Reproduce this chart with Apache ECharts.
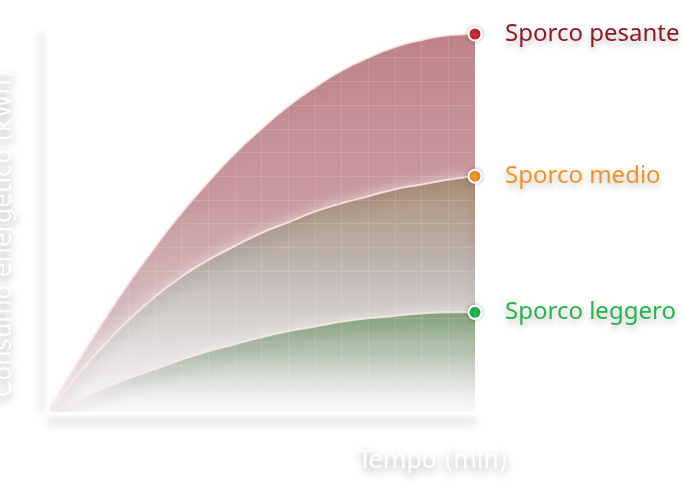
<!DOCTYPE html>
<html>
<head>
<meta charset="utf-8">
<script src="https://cdn.jsdelivr.net/npm/echarts@6/dist/echarts.min.js"></script>
<style>html,body{margin:0;padding:0;background:#fff;}#c{width:684px;height:500px;}</style>
</head>
<body>
<div id="c"></div>
<script>
const times = [0, 5, 10, 15, 20, 25, 30, 35, 40, 45, 50, 55, 60, 65, 70, 75, 80];
const pesante = [0, 0.39, 0.75, 1.09, 1.4, 1.69, 1.95, 2.19, 2.4, 2.59, 2.75, 2.89, 3.0, 3.09, 3.15, 3.19, 3.2];
const medio = [0, 0.29, 0.55, 0.78, 0.98, 1.15, 1.29, 1.41, 1.52, 1.61, 1.7, 1.77, 1.83, 1.89, 1.93, 1.97, 2.0];
const leggero = [0, 0.1, 0.2, 0.29, 0.37, 0.45, 0.52, 0.58, 0.64, 0.69, 0.73, 0.77, 0.8, 0.82, 0.84, 0.85, 0.85];
const seriesNames = ['Sporco pesante', 'Sporco medio', 'Sporco leggero'];
const xName = 'Tempo (min)';
const yName = 'Consumo energetico (kWh)';

const FONT = 'Noto Sans';
const NAME_FONT = 'DejaVu Sans';
const defs = [
  {name: seriesNames[0], data: pesante, marker: '#c62a33', label: '#8e1b22', lineShadow: 'rgba(0,0,0,0.12)',
   stops: [[0, 'rgba(165,80,88,1)'], [0.45, 'rgba(178,112,118,1)'], [0.75, 'rgba(198,165,168,1)'], [1, 'rgba(236,228,228,0.85)']]},
  {name: seriesNames[1], data: medio, marker: '#f7931e', label: '#f39325', lineShadow: 'rgba(0,0,0,0.3)',
   stops: [[0, 'rgba(148,116,80,1)'], [0.35, 'rgba(166,158,150,1)'], [0.6, 'rgba(200,197,194,1)'], [1, 'rgba(250,250,250,0.75)']]},
  {name: seriesNames[2], data: leggero, marker: '#22b74a', label: '#27b44a', lineShadow: 'rgba(0,0,0,0.35)',
   stops: [[0, 'rgba(95,140,85,1)'], [0.4, 'rgba(155,175,150,1)'], [0.7, 'rgba(210,215,208,0.95)'], [1, 'rgba(255,255,255,0.6)']]}
];
const last = times.length - 1;

const chart = echarts.init(document.getElementById('c'));
chart.setOption({
  animation: false,
  backgroundColor: '#fff',
  grid: {left: 48, right: 209, top: 34, bottom: 87, outerBoundsMode: 'none', containLabel: false},
  xAxis: {
    type: 'value', min: 0, max: 80, interval: 5, z: 5,
    name: xName, nameLocation: 'end', nameGap: 33,
    nameTextStyle: {
      color: '#fff', fontSize: 24, fontFamily: NAME_FONT, align: 'right', verticalAlign: 'top',
      padding: [37, 0, 0, 0],
      textShadowColor: 'rgba(0,0,0,0.35)', textShadowBlur: 8, textShadowOffsetY: 4
    },
    axisLine: {lineStyle: {color: '#fff', width: 3, shadowColor: 'rgba(0,0,0,0.25)', shadowBlur: 8, shadowOffsetY: 8}},
    axisTick: {show: false},
    axisLabel: {show: false},
    splitLine: {show: true, lineStyle: {color: 'rgba(255,255,255,0.13)', width: 1}}
  },
  yAxis: {
    type: 'value', min: 0, max: 3.2, interval: 0.2, z: 5,
    name: yName, nameLocation: 'middle', nameGap: 31,
    nameTextStyle: {
      color: '#fff', fontSize: 24, fontFamily: NAME_FONT, padding: [0, 20, 0, 0],
      textShadowColor: 'rgba(0,0,0,0.35)', textShadowBlur: 8, textShadowOffsetY: 4
    },
    axisLine: {show: true, lineStyle: {color: '#fff', width: 3, shadowColor: 'rgba(0,0,0,0.18)', shadowBlur: 8, shadowOffsetX: -8}},
    axisTick: {show: false},
    axisLabel: {show: false},
    splitLine: {show: true, lineStyle: {color: 'rgba(255,255,255,0.13)', width: 1}}
  },
  series: defs.map(d => ({
    type: 'line',
    name: d.name,
    smooth: 0.5,
    data: times.map((t, i) => [t, d.data[i]]),
    showSymbol: true,
    symbol: 'circle',
    symbolSize: (v, p) => p.dataIndex === last ? 13 : 0,
    itemStyle: {color: d.marker, borderColor: '#fff', borderWidth: 2, shadowColor: 'rgba(0,0,0,0.25)', shadowBlur: 4},
    lineStyle: {color: 'rgba(255,235,235,0.8)', width: 2, shadowColor: d.lineShadow, shadowBlur: 14, shadowOffsetY: 8},
    areaStyle: {
      color: {
        type: 'linear', x: 0, y: 0, x2: 0, y2: 1,
        colorStops: d.stops.map(s => ({offset: s[0], color: s[1]}))
      },
      shadowColor: 'rgba(255,255,255,0.9)', shadowBlur: 14
    },
    endLabel: {
      show: true, formatter: '{a}', color: d.label, fontSize: 24, fontFamily: FONT, distance: 30,
      textShadowColor: 'rgba(0,0,0,0.25)', textShadowBlur: 6, textShadowOffsetY: 4
    },
    emphasis: {disabled: true}
  }))
});
</script>
</body>
</html>
